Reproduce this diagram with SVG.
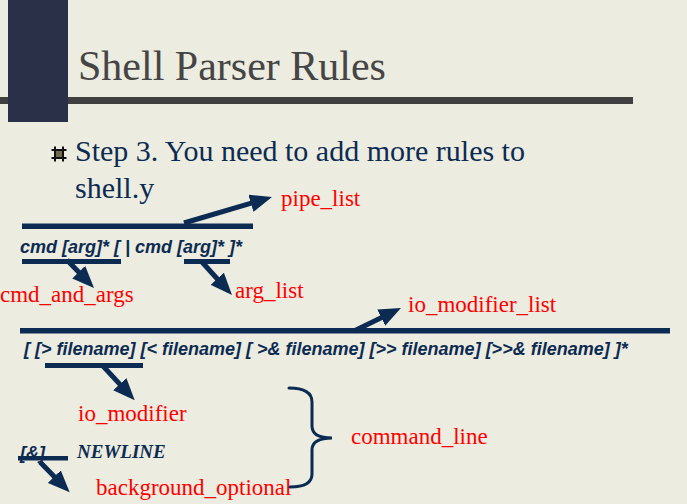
<svg xmlns="http://www.w3.org/2000/svg" width="687" height="504" viewBox="0 0 687 504">
  <defs>
    <style>
      .bg { fill: #ECECE0; }
      .navy { fill: #0C2B52; }
      .title { font-family: "Liberation Serif", "Times New Roman", serif; font-size: 42px; fill: #454545; }
      .body { font-family: "Liberation Serif", "Times New Roman", serif; font-size: 30px; fill: #0C2B52; }
      .red { font-family: "Liberation Serif", "Times New Roman", serif; font-size: 23px; fill: #FF0000; }
      .gram { font-family: "Liberation Sans", Arial, sans-serif; font-size: 18px; font-weight: bold; font-style: italic; fill: #0C2B52; }
      .gserif { font-family: "Liberation Serif", "Times New Roman", serif; font-size: 19px; font-weight: bold; font-style: italic; fill: #0C2B52; }
      .arrow { stroke: #0C2B52; stroke-width: 5; fill: none; marker-end: url(#head); }
      .brace { stroke: #0C2B52; stroke-width: 3; fill: none; stroke-linecap: round; }
    </style>
    <marker id="head" markerUnits="userSpaceOnUse" markerWidth="22" markerHeight="18" viewBox="0 0 22 18" refX="4" refY="9" orient="auto">
      <path d="M0,0 L22,9 L0,18 z" fill="#0C2B52"/>
    </marker>
  </defs>

  <rect class="bg" x="0" y="0" width="687" height="504"/>

  <g id="header">
    <rect x="0" y="97" width="633" height="7" fill="#404040"/>
    <rect x="8" y="0" width="60" height="122" fill="#2B3049"/>
    <text class="title" x="78" y="80">Shell Parser Rules</text>
  </g>

  <g id="bullet-text">
    <rect x="54" y="149" width="10" height="10" fill="#6E6B4E"/>
    <g stroke="#111" stroke-width="2">
      <line x1="55" y1="146.5" x2="55" y2="161.5"/>
      <line x1="63" y1="146.5" x2="63" y2="161.5"/>
      <line x1="51.5" y1="150" x2="66.5" y2="150"/>
      <line x1="51.5" y1="158" x2="66.5" y2="158"/>
    </g>
    <text class="body" x="75" y="161">Step 3. You need to add more rules to</text>
    <text class="body" x="75" y="198">shell.y</text>
  </g>

  <g id="pipe-rule">
    <rect class="navy" x="22" y="223.5" width="231" height="5.5"/>
    <text class="gram" x="20" y="253">cmd [arg]* [ | cmd [arg]* ]*</text>
    <rect class="navy" x="22" y="259" width="99" height="5"/>
    <rect class="navy" x="184" y="259" width="46" height="5"/>
  </g>

  <g id="io-rule">
    <rect class="navy" x="20" y="328" width="650" height="5.5"/>
    <text class="gram" x="24" y="355">[ [&gt; filename] [&lt; filename] [ &gt;&amp; filename] [&gt;&gt; filename] [&gt;&gt;&amp; filename] ]*</text>
    <rect class="navy" x="45" y="363" width="98" height="5"/>
  </g>

  <g id="bg-rule">
    <text class="gram" x="20" y="459">[&amp;]</text>
    <rect class="navy" x="18" y="456" width="50" height="4.5"/>
    <text class="gserif" x="77" y="458">NEWLINE</text>
  </g>

  <g id="pipe_list"><text class="red" x="281" y="206">pipe_list</text></g>
  <g id="cmd_and_args"><text class="red" x="0" y="302">cmd_and_args</text></g>
  <g id="arg_list"><text class="red" x="235" y="298">arg_list</text></g>
  <g id="io_modifier_list"><text class="red" x="408" y="312">io_modifier_list</text></g>
  <g id="io_modifier"><text class="red" x="78" y="421">io_modifier</text></g>
  <g id="background_optional"><text class="red" x="96" y="495">background_optional</text></g>
  <g id="command_line"><text class="red" x="351" y="444">command_line</text></g>

  <g id="connectors">
    <line class="arrow" x1="184" y1="223" x2="254.7" y2="202.1"/>
    <line class="arrow" x1="67" y1="260" x2="81.5" y2="275"/>
    <line class="arrow" x1="202" y1="262" x2="219.9" y2="281.7"/>
    <line class="arrow" x1="354" y1="331" x2="384.8" y2="315.9"/>
    <line class="arrow" x1="103" y1="366" x2="122.5" y2="387.1"/>
    <line class="arrow" x1="40" y1="462" x2="57.1" y2="479.5"/>
    <path class="brace" d="M289,388 Q312,388 312,402 L312,426 Q312,438 332,438 Q312,438 312,450 L312,474 Q312,487 290,487"/>
  </g>
</svg>
